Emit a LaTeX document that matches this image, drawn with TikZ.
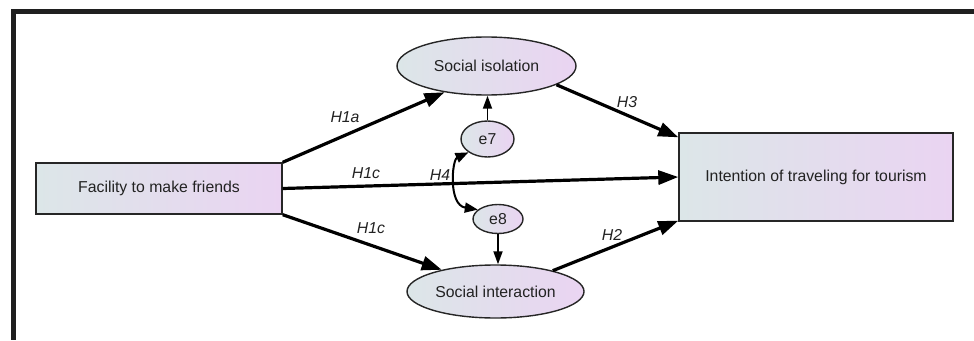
\documentclass[tikz,border=0pt]{standalone}
\usepackage{fontspec}
\setmainfont{Liberation Sans}
\usetikzlibrary{arrows.meta,shapes.geometric,calc}
\definecolor{lcol}{RGB}{220,230,232}
\definecolor{rcol}{RGB}{234,212,242}
\definecolor{txt}{RGB}{34,34,34}
\begin{document}
\begin{tikzpicture}[x=1pt,y=-1pt,
  every node/.style={text=txt,font=\fontsize{15.8}{18}\selectfont},
  boxnode/.style={draw=black!85,line width=1.4pt,left color=lcol,right color=rcol,inner sep=0pt},
  ellnode/.style={ellipse,draw=black!85,line width=1.4pt,left color=lcol,right color=rcol,inner sep=0pt},
  path arrow/.style={line width=3.2pt,-{Triangle[length=20pt,width=14pt]}},
  small arrow/.style={line width=1.8pt,-{Triangle[length=13pt,width=9pt]}},
  cov arrow/.style={line width=2pt,{Triangle[length=13pt,width=10pt]}-{Triangle[length=13pt,width=10pt]}},
  lab/.style={font=\itshape\fontsize{15.8}{18}\selectfont}]
\useasboundingbox (0,0) rectangle (974,340);
\fill[black!88] (11,9) rectangle (974,13.5);
\fill[black!88] (11,9) rectangle (15.5,340);

\node[boxnode,minimum width=246pt,minimum height=51pt] (L) at (159,188.5) {Facility to make friends};
\node[boxnode,minimum width=274pt,minimum height=88pt] (R) at (816,177) {Intention of traveling for tourism};
\node[ellnode,minimum width=179pt,minimum height=58pt] (SI) at (486.5,66) {Social isolation};
\node[ellnode,minimum width=177pt,minimum height=53pt] (SX) at (495.5,291.5) {Social interaction};
\node[ellnode,minimum width=53pt,minimum height=36pt] (E7) at (487.5,139) {e7};
\node[ellnode,minimum width=50pt,minimum height=29pt] (E8) at (498,219) {e8};

\draw[path arrow] (L.north east) -- (SI.212);
\draw[path arrow] (L.east) -- (R.west);
\draw[path arrow] (L.south east) -- (SX.158);
\draw[path arrow] (SI.-15) -- ($(R.north west)+(0,5)$);
\draw[path arrow] (SX.20) -- ($(R.south west)+(0,-1)$);
\draw[small arrow] (E7.north) -- (E7.north |- SI.south);
\draw[small arrow] (E8.south) -- (E8.south |- SX.north);
\draw[cov arrow] (E7.215) .. controls (452,160) and (448,205) .. (E8.155);

\node[lab] (l1) at (345,117) {H1a};
\node[lab] (l2) at (366,173) {H1c};
\node[lab] (l3) at (440,175) {H4};
\node[lab] (l4) at (371,228) {H1c};
\node[lab] (l5) at (627,102) {H3};
\node[lab] (l6) at (612,235) {H2};
\end{tikzpicture}
\end{document}
